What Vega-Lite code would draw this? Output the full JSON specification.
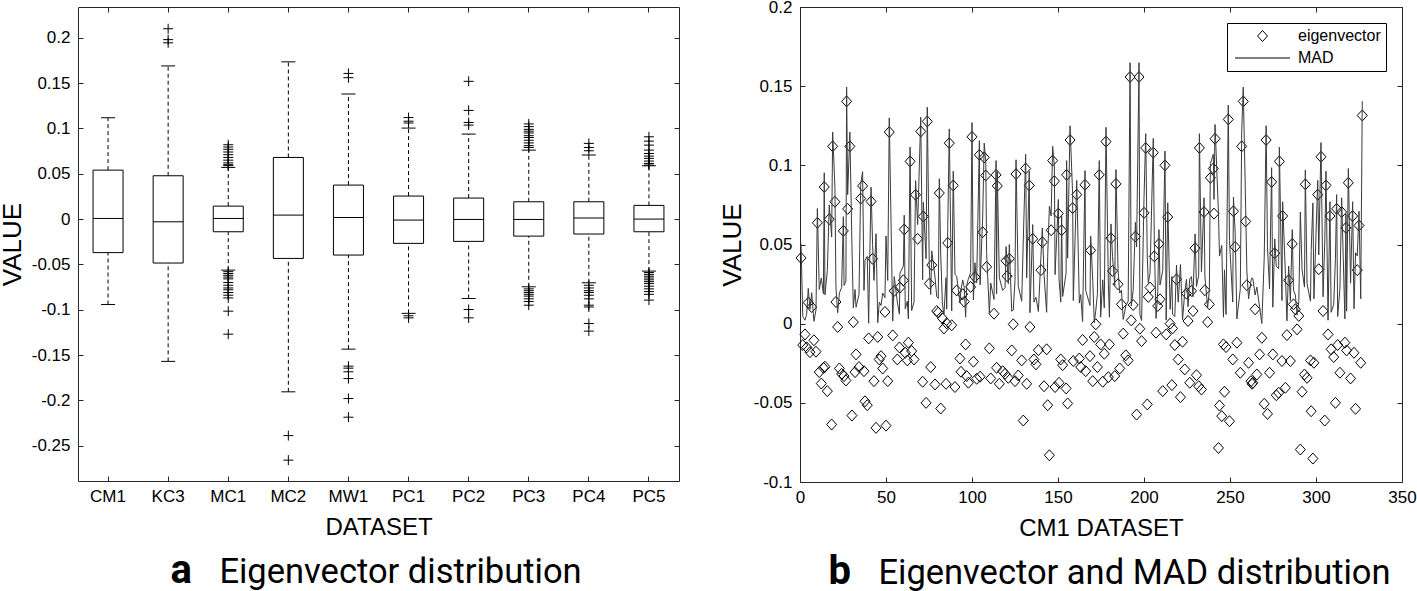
{
  "$schema": "https://vega.github.io/schema/vega-lite/v6.json",
  "background": "white",
  "padding": {"left": -2, "top": -3, "right": 5, "bottom": 0},
  "spacing": 39,
  "resolve": {"legend": {"shape": "independent"}, "scale": {"shape": "independent"}},
  "config": {
    "view": {"stroke": "#262626", "strokeWidth": 1},
    "font": "Liberation Sans",
    "axis": {"domain": false, "grid": false, "tickColor": "#262626", "tickSize": -5, "tickWidth": 1, "labelFont": "Liberation Sans", "labelFontSize": 17, "labelColor": "#000", "titleFont": "Liberation Sans", "titleFontWeight": "normal", "titleColor": "#000", "labelFlush": false, "labelOverlap": false, "labelBound": false}
  },
  "datasets": {
    "box": [
      {"dataset": "CM1", "lw": -0.0943, "q1": -0.037, "med": 0.0007, "q3": 0.054, "uw": 0.1118},
      {"dataset": "KC3", "lw": -0.157, "q1": -0.0485, "med": -0.003, "q3": 0.0478, "uw": 0.169},
      {"dataset": "MC1", "lw": -0.0563, "q1": -0.014, "med": 0.0007, "q3": 0.0143, "uw": 0.057},
      {"dataset": "MC2", "lw": -0.1906, "q1": -0.0434, "med": 0.0044, "q3": 0.068, "uw": 0.1735},
      {"dataset": "MW1", "lw": -0.1435, "q1": -0.0397, "med": 0.0018, "q3": 0.0375, "uw": 0.138},
      {"dataset": "PC1", "lw": -0.104, "q1": -0.0268, "med": -0.0011, "q3": 0.0254, "uw": 0.1004},
      {"dataset": "PC2", "lw": -0.0876, "q1": -0.0246, "med": -0.0004, "q3": 0.0232, "uw": 0.0938},
      {"dataset": "PC3", "lw": -0.0747, "q1": -0.0188, "med": -0.0004, "q3": 0.0191, "uw": 0.0761},
      {"dataset": "PC4", "lw": -0.0703, "q1": -0.0165, "med": 0.0011, "q3": 0.0191, "uw": 0.0706},
      {"dataset": "PC5", "lw": -0.0574, "q1": -0.014, "med": 0.0, "q3": 0.0151, "uw": 0.0588}
    ],
    "out": [
      {"dataset": "KC3", "value": 0.21}, {"dataset": "KC3", "value": 0.198}, {"dataset": "KC3", "value": 0.1945},
      {"dataset": "MC1", "value": 0.082}, {"dataset": "MC1", "value": 0.0795}, {"dataset": "MC1", "value": 0.077}, {"dataset": "MC1", "value": 0.074}, {"dataset": "MC1", "value": 0.071}, {"dataset": "MC1", "value": 0.068}, {"dataset": "MC1", "value": 0.065}, {"dataset": "MC1", "value": 0.062}, {"dataset": "MC1", "value": 0.06}, {"dataset": "MC1", "value": 0.059},
      {"dataset": "MC1", "value": -0.058}, {"dataset": "MC1", "value": -0.06}, {"dataset": "MC1", "value": -0.062}, {"dataset": "MC1", "value": -0.064}, {"dataset": "MC1", "value": -0.066}, {"dataset": "MC1", "value": -0.07}, {"dataset": "MC1", "value": -0.073}, {"dataset": "MC1", "value": -0.076}, {"dataset": "MC1", "value": -0.078}, {"dataset": "MC1", "value": -0.081}, {"dataset": "MC1", "value": -0.084}, {"dataset": "MC1", "value": -0.087}, {"dataset": "MC1", "value": -0.1016}, {"dataset": "MC1", "value": -0.127},
      {"dataset": "MC2", "value": -0.2389}, {"dataset": "MC2", "value": -0.266},
      {"dataset": "MW1", "value": 0.1607}, {"dataset": "MW1", "value": 0.156}, {"dataset": "MW1", "value": -0.1623}, {"dataset": "MW1", "value": -0.1645}, {"dataset": "MW1", "value": -0.1685}, {"dataset": "MW1", "value": -0.176}, {"dataset": "MW1", "value": -0.198}, {"dataset": "MW1", "value": -0.2186},
      {"dataset": "PC1", "value": 0.112}, {"dataset": "PC1", "value": 0.108}, {"dataset": "PC1", "value": 0.106}, {"dataset": "PC1", "value": -0.1067}, {"dataset": "PC1", "value": -0.109},
      {"dataset": "PC2", "value": 0.152}, {"dataset": "PC2", "value": 0.1199}, {"dataset": "PC2", "value": 0.1066}, {"dataset": "PC2", "value": 0.1037}, {"dataset": "PC2", "value": -0.0998}, {"dataset": "PC2", "value": -0.109},
      {"dataset": "PC3", "value": 0.105}, {"dataset": "PC3", "value": 0.102}, {"dataset": "PC3", "value": 0.099}, {"dataset": "PC3", "value": 0.097}, {"dataset": "PC3", "value": 0.095}, {"dataset": "PC3", "value": 0.092}, {"dataset": "PC3", "value": 0.09}, {"dataset": "PC3", "value": 0.087}, {"dataset": "PC3", "value": 0.084}, {"dataset": "PC3", "value": 0.081}, {"dataset": "PC3", "value": 0.079},
      {"dataset": "PC3", "value": -0.077}, {"dataset": "PC3", "value": -0.079}, {"dataset": "PC3", "value": -0.081}, {"dataset": "PC3", "value": -0.083}, {"dataset": "PC3", "value": -0.085}, {"dataset": "PC3", "value": -0.088}, {"dataset": "PC3", "value": -0.091}, {"dataset": "PC3", "value": -0.095},
      {"dataset": "PC4", "value": 0.0835}, {"dataset": "PC4", "value": 0.079}, {"dataset": "PC4", "value": 0.0754}, {"dataset": "PC4", "value": -0.073}, {"dataset": "PC4", "value": -0.076}, {"dataset": "PC4", "value": -0.079}, {"dataset": "PC4", "value": -0.081}, {"dataset": "PC4", "value": -0.084}, {"dataset": "PC4", "value": -0.088}, {"dataset": "PC4", "value": -0.095}, {"dataset": "PC4", "value": -0.097}, {"dataset": "PC4", "value": -0.1152}, {"dataset": "PC4", "value": -0.1236},
      {"dataset": "PC5", "value": 0.0908}, {"dataset": "PC5", "value": 0.086}, {"dataset": "PC5", "value": 0.0816}, {"dataset": "PC5", "value": 0.0761}, {"dataset": "PC5", "value": 0.0724}, {"dataset": "PC5", "value": 0.0695}, {"dataset": "PC5", "value": 0.067}, {"dataset": "PC5", "value": 0.064}, {"dataset": "PC5", "value": 0.0614}, {"dataset": "PC5", "value": 0.0596},
      {"dataset": "PC5", "value": -0.059}, {"dataset": "PC5", "value": -0.061}, {"dataset": "PC5", "value": -0.063}, {"dataset": "PC5", "value": -0.065}, {"dataset": "PC5", "value": -0.067}, {"dataset": "PC5", "value": -0.069}, {"dataset": "PC5", "value": -0.071}, {"dataset": "PC5", "value": -0.074}, {"dataset": "PC5", "value": -0.077}, {"dataset": "PC5", "value": -0.08}, {"dataset": "PC5", "value": -0.083}, {"dataset": "PC5", "value": -0.0894}
    ],
    "leg": [{"series": "eigenvector"}, {"series": "MAD"}],
    "cm1": [
      {"i": 0.6, "ev": 0.0415, "mad": 0.0505}, {"i": 1.6, "ev": -0.0135, "mad": 0.0045}, {"i": 2.9, "ev": -0.0068, "mad": 0.0022}, {"i": 3.9, "ev": -0.015, "mad": 0.006}, {"i": 4.8, "ev": 0.0133, "mad": 0.0223}, {"i": 5.8, "ev": -0.018, "mad": 0.009}, {"i": 6.8, "ev": 0.0105, "mad": 0.0195}, {"i": 8.1, "ev": -0.0105, "mad": 0.0015}, {"i": 9.3, "ev": -0.0177, "mad": 0.0087}, {"i": 10.1, "ev": 0.0637, "mad": 0.0727},
      {"i": 11.2, "ev": -0.0306, "mad": 0.0216}, {"i": 12.4, "ev": -0.0378, "mad": 0.0288}, {"i": 13.6, "ev": -0.0279, "mad": 0.0189}, {"i": 14.1, "ev": 0.0863, "mad": 0.0953}, {"i": 14.5, "ev": -0.0272, "mad": 0.0182}, {"i": 15.9, "ev": -0.0426, "mad": 0.0336}, {"i": 17.0, "ev": 0.066, "mad": 0.075}, {"i": 18.4, "ev": -0.0637, "mad": 0.0547}, {"i": 19.0, "ev": 0.112, "mad": 0.121}, {"i": 20.3, "ev": 0.077, "mad": 0.086},
      {"i": 20.9, "ev": 0.0137, "mad": 0.0227}, {"i": 21.9, "ev": -0.0021, "mad": 0.0069}, {"i": 22.9, "ev": -0.0283, "mad": 0.0193}, {"i": 24.2, "ev": -0.0317, "mad": 0.0227}, {"i": 25.2, "ev": 0.0586, "mad": 0.0676}, {"i": 25.6, "ev": -0.0331, "mad": 0.0241}, {"i": 26.7, "ev": -0.0359, "mad": 0.0269}, {"i": 27.1, "ev": 0.1404, "mad": 0.1494}, {"i": 27.7, "ev": 0.0725, "mad": 0.0815}, {"i": 29.0, "ev": 0.112, "mad": 0.121},
      {"i": 30.2, "ev": -0.058, "mad": 0.049}, {"i": 31.0, "ev": 0.001, "mad": 0.01}, {"i": 32.0, "ev": -0.0306, "mad": 0.0216}, {"i": 32.6, "ev": -0.0194, "mad": 0.0104}, {"i": 34.3, "ev": -0.0274, "mad": 0.0184}, {"i": 35.3, "ev": 0.079, "mad": 0.088}, {"i": 36.4, "ev": 0.087, "mad": 0.096}, {"i": 37.2, "ev": -0.03, "mad": 0.021}, {"i": 37.8, "ev": -0.049, "mad": 0.04}, {"i": 39.1, "ev": -0.0515, "mad": 0.0425},
      {"i": 39.9, "ev": -0.0093, "mad": 0.0003}, {"i": 41.3, "ev": 0.0772, "mad": 0.0862}, {"i": 42.2, "ev": 0.041, "mad": 0.05}, {"i": 43.0, "ev": -0.0363, "mad": 0.0273}, {"i": 44.2, "ev": -0.0658, "mad": 0.0568}, {"i": 45.2, "ev": -0.0084, "mad": 0.0006}, {"i": 46.1, "ev": -0.0226, "mad": 0.0136}, {"i": 47.1, "ev": -0.0205, "mad": 0.0115}, {"i": 48.1, "ev": -0.0283, "mad": 0.0193}, {"i": 49.4, "ev": 0.0074, "mad": 0.0164},
      {"i": 50.0, "ev": -0.0644, "mad": 0.0554}, {"i": 51.0, "ev": -0.0363, "mad": 0.0273}, {"i": 51.9, "ev": 0.121, "mad": 0.13}, {"i": 53.9, "ev": -0.0074, "mad": 0.0016}, {"i": 54.8, "ev": 0.0207, "mad": 0.0297}, {"i": 56.6, "ev": -0.0226, "mad": 0.0136}, {"i": 57.8, "ev": -0.015, "mad": 0.006}, {"i": 58.1, "ev": 0.0228, "mad": 0.0318}, {"i": 60.1, "ev": 0.0274, "mad": 0.0364}, {"i": 60.6, "ev": 0.0595, "mad": 0.0685},
      {"i": 61.2, "ev": -0.0184, "mad": 0.0094}, {"i": 62.4, "ev": -0.0232, "mad": 0.0142}, {"i": 63.0, "ev": -0.012, "mad": 0.003}, {"i": 64.0, "ev": 0.1025, "mad": 0.1115}, {"i": 64.9, "ev": -0.0173, "mad": 0.0083}, {"i": 66.3, "ev": -0.0226, "mad": 0.0136}, {"i": 67.2, "ev": 0.0814, "mad": 0.0904}, {"i": 68.4, "ev": 0.0536, "mad": 0.0626}, {"i": 70.2, "ev": 0.1214, "mad": 0.1304}, {"i": 71.3, "ev": -0.0367, "mad": 0.0277},
      {"i": 71.7, "ev": 0.0677, "mad": 0.0767}, {"i": 73.3, "ev": -0.05, "mad": 0.041}, {"i": 74.0, "ev": 0.1277, "mad": 0.1367}, {"i": 75.2, "ev": 0.0253, "mad": 0.0343}, {"i": 76.0, "ev": -0.0274, "mad": 0.0184}, {"i": 76.6, "ev": 0.037, "mad": 0.046}, {"i": 78.5, "ev": -0.0384, "mad": 0.0294}, {"i": 79.5, "ev": 0.008, "mad": 0.017}, {"i": 80.4, "ev": 0.007, "mad": 0.016}, {"i": 81.0, "ev": 0.0825, "mad": 0.0915},
      {"i": 81.8, "ev": -0.0536, "mad": 0.0446}, {"i": 82.8, "ev": 0.0034, "mad": 0.0124}, {"i": 83.7, "ev": -0.003, "mad": 0.006}, {"i": 84.9, "ev": -0.038, "mad": 0.029}, {"i": 85.3, "ev": 0.0002, "mad": 0.0092}, {"i": 85.9, "ev": 0.051, "mad": 0.06}, {"i": 86.8, "ev": 0.114, "mad": 0.123}, {"i": 88.2, "ev": -0.001, "mad": 0.008}, {"i": 89.1, "ev": 0.0873, "mad": 0.0963}, {"i": 90.1, "ev": -0.04, "mad": 0.031},
      {"i": 91.1, "ev": 0.021, "mad": 0.03}, {"i": 93.0, "ev": -0.022, "mad": 0.013}, {"i": 93.6, "ev": -0.0304, "mad": 0.0214}, {"i": 94.6, "ev": 0.0186, "mad": 0.0276}, {"i": 95.5, "ev": 0.0139, "mad": 0.0229}, {"i": 96.3, "ev": -0.0131, "mad": 0.0041}, {"i": 96.9, "ev": -0.0331, "mad": 0.0241}, {"i": 97.9, "ev": -0.0373, "mad": 0.0283}, {"i": 99.2, "ev": 0.0232, "mad": 0.0322}, {"i": 100.0, "ev": 0.118, "mad": 0.127},
      {"i": 100.8, "ev": -0.024, "mad": 0.015}, {"i": 101.7, "ev": 0.0295, "mad": 0.0385}, {"i": 102.7, "ev": -0.0348, "mad": 0.0258}, {"i": 104.3, "ev": 0.1066, "mad": 0.1156}, {"i": 104.7, "ev": -0.0335, "mad": 0.0245}, {"i": 106.2, "ev": 0.0578, "mad": 0.0668}, {"i": 107.1, "ev": 0.105, "mad": 0.114}, {"i": 108.0, "ev": 0.0936, "mad": 0.1026}, {"i": 108.5, "ev": 0.0359, "mad": 0.0449}, {"i": 110.1, "ev": -0.0156, "mad": 0.0066},
      {"i": 110.9, "ev": -0.0346, "mad": 0.0256}, {"i": 112.8, "ev": 0.0063, "mad": 0.0153}, {"i": 114.0, "ev": 0.094, "mad": 0.103}, {"i": 114.3, "ev": -0.0279, "mad": 0.0189}, {"i": 114.7, "ev": 0.087, "mad": 0.096}, {"i": 115.9, "ev": -0.038, "mad": 0.029}, {"i": 117.8, "ev": -0.03, "mad": 0.021}, {"i": 119.2, "ev": -0.0317, "mad": 0.0227}, {"i": 119.8, "ev": 0.0397, "mad": 0.0487}, {"i": 120.4, "ev": 0.03, "mad": 0.039},
      {"i": 121.1, "ev": -0.0342, "mad": 0.0252}, {"i": 121.7, "ev": 0.041, "mad": 0.05}, {"i": 123.1, "ev": -0.0169, "mad": 0.0079}, {"i": 124.0, "ev": -0.0004, "mad": 0.0086}, {"i": 125.0, "ev": -0.0363, "mad": 0.0273}, {"i": 125.6, "ev": 0.0945, "mad": 0.1035}, {"i": 126.9, "ev": -0.0327, "mad": 0.0237}, {"i": 128.9, "ev": -0.0232, "mad": 0.0142}, {"i": 129.8, "ev": -0.0612, "mad": 0.0522}, {"i": 131.2, "ev": 0.098, "mad": 0.107},
      {"i": 131.8, "ev": -0.038, "mad": 0.029}, {"i": 133.3, "ev": 0.0873, "mad": 0.0963}, {"i": 133.7, "ev": -0.0021, "mad": 0.0069}, {"i": 135.3, "ev": 0.0536, "mad": 0.0626}, {"i": 136.0, "ev": -0.0226, "mad": 0.0136}, {"i": 137.2, "ev": -0.0257, "mad": 0.0167}, {"i": 138.6, "ev": -0.0167, "mad": 0.0077}, {"i": 140.1, "ev": 0.0338, "mad": 0.0428}, {"i": 140.9, "ev": 0.0515, "mad": 0.0605}, {"i": 141.9, "ev": -0.0395, "mad": 0.0305},
      {"i": 143.4, "ev": -0.0162, "mad": 0.0072}, {"i": 144.0, "ev": -0.0515, "mad": 0.0425}, {"i": 145.0, "ev": -0.0831, "mad": 0.0741}, {"i": 146.0, "ev": 0.059, "mad": 0.068}, {"i": 146.9, "ev": 0.103, "mad": 0.112}, {"i": 147.9, "ev": 0.09, "mad": 0.099}, {"i": 148.3, "ev": -0.04, "mad": 0.031}, {"i": 150.2, "ev": 0.0695, "mad": 0.0785}, {"i": 150.6, "ev": -0.0373, "mad": 0.0283}, {"i": 151.6, "ev": -0.0226, "mad": 0.0136},
      {"i": 152.1, "ev": 0.059, "mad": 0.068}, {"i": 152.7, "ev": -0.0262, "mad": 0.0172}, {"i": 154.7, "ev": -0.0409, "mad": 0.0319}, {"i": 155.0, "ev": 0.094, "mad": 0.103}, {"i": 155.6, "ev": -0.0504, "mad": 0.0414}, {"i": 157.0, "ev": 0.116, "mad": 0.125}, {"i": 158.5, "ev": 0.073, "mad": 0.082}, {"i": 158.9, "ev": -0.0236, "mad": 0.0146}, {"i": 160.9, "ev": 0.0815, "mad": 0.0905}, {"i": 162.4, "ev": -0.022, "mad": 0.013},
      {"i": 163.2, "ev": -0.0274, "mad": 0.0184}, {"i": 164.3, "ev": -0.0103, "mad": 0.0013}, {"i": 165.7, "ev": 0.0877, "mad": 0.0967}, {"i": 166.1, "ev": -0.03, "mad": 0.021}, {"i": 168.6, "ev": -0.0205, "mad": 0.0115}, {"i": 169.0, "ev": 0.0463, "mad": 0.0553}, {"i": 170.2, "ev": -0.0363, "mad": 0.0273}, {"i": 171.1, "ev": -0.0084, "mad": 0.0006}, {"i": 172.0, "ev": -0.0004, "mad": 0.0086}, {"i": 172.9, "ev": -0.0274, "mad": 0.0184},
      {"i": 174.0, "ev": 0.094, "mad": 0.103}, {"i": 174.8, "ev": -0.0131, "mad": 0.0041}, {"i": 176.0, "ev": -0.0367, "mad": 0.0277}, {"i": 176.9, "ev": -0.019, "mad": 0.01}, {"i": 177.9, "ev": 0.115, "mad": 0.124}, {"i": 179.3, "ev": -0.0338, "mad": 0.0248}, {"i": 179.9, "ev": -0.0131, "mad": 0.0041}, {"i": 180.8, "ev": 0.054, "mad": 0.063}, {"i": 181.7, "ev": 0.0333, "mad": 0.0423}, {"i": 183.0, "ev": -0.0331, "mad": 0.0241},
      {"i": 183.7, "ev": 0.0883, "mad": 0.0973}, {"i": 184.9, "ev": 0.0249, "mad": 0.0339}, {"i": 185.9, "ev": -0.0283, "mad": 0.0193}, {"i": 186.9, "ev": 0.0122, "mad": 0.0212}, {"i": 187.9, "ev": -0.0063, "mad": 0.0027}, {"i": 189.4, "ev": -0.02, "mad": 0.011}, {"i": 190.8, "ev": -0.0232, "mad": 0.0142}, {"i": 191.9, "ev": 0.1558, "mad": 0.1648}, {"i": 192.6, "ev": 0.0021, "mad": 0.0111}, {"i": 193.7, "ev": 0.0118, "mad": 0.0208},
      {"i": 195.0, "ev": 0.055, "mad": 0.064}, {"i": 195.7, "ev": -0.0574, "mad": 0.0484}, {"i": 197.1, "ev": 0.1558, "mad": 0.1648}, {"i": 197.6, "ev": -0.0032, "mad": 0.0058}, {"i": 198.6, "ev": -0.011, "mad": 0.002}, {"i": 200.0, "ev": 0.07, "mad": 0.079}, {"i": 201.0, "ev": 0.111, "mad": 0.12}, {"i": 201.9, "ev": -0.051, "mad": 0.042}, {"i": 202.5, "ev": 0.0169, "mad": 0.0259}, {"i": 203.5, "ev": 0.0228, "mad": 0.0318},
      {"i": 205.4, "ev": 0.108, "mad": 0.117}, {"i": 206.0, "ev": 0.0425, "mad": 0.0515}, {"i": 207.0, "ev": -0.0057, "mad": 0.0033}, {"i": 208.0, "ev": 0.0112, "mad": 0.0202}, {"i": 208.7, "ev": 0.0504, "mad": 0.0594}, {"i": 209.3, "ev": 0.0154, "mad": 0.0244}, {"i": 210.9, "ev": -0.0426, "mad": 0.0336}, {"i": 212.2, "ev": 0.1, "mad": 0.109}, {"i": 212.9, "ev": -0.0068, "mad": 0.0022}, {"i": 213.8, "ev": 0.0673, "mad": 0.0763},
      {"i": 215.2, "ev": 0.0, "mad": 0.009}, {"i": 216.2, "ev": -0.0388, "mad": 0.0298}, {"i": 216.6, "ev": -0.003, "mad": 0.006}, {"i": 217.9, "ev": -0.0135, "mad": 0.0045}, {"i": 218.9, "ev": 0.028, "mad": 0.037}, {"i": 219.9, "ev": -0.0226, "mad": 0.0136}, {"i": 221.2, "ev": -0.0464, "mad": 0.0374}, {"i": 222.4, "ev": -0.0114, "mad": 0.0024}, {"i": 223.7, "ev": -0.0289, "mad": 0.0199}, {"i": 224.7, "ev": 0.019, "mad": 0.028},
      {"i": 225.6, "ev": 0.0017, "mad": 0.0107}, {"i": 226.6, "ev": -0.0373, "mad": 0.0283}, {"i": 227.6, "ev": 0.0207, "mad": 0.0297}, {"i": 228.5, "ev": 0.008, "mad": 0.017}, {"i": 229.7, "ev": 0.0477, "mad": 0.0567}, {"i": 230.5, "ev": -0.0325, "mad": 0.0235}, {"i": 231.8, "ev": -0.0395, "mad": 0.0305}, {"i": 232.2, "ev": 0.111, "mad": 0.12}, {"i": 233.4, "ev": -0.0416, "mad": 0.0326}, {"i": 234.9, "ev": 0.0705, "mad": 0.0795},
      {"i": 235.4, "ev": 0.0211, "mad": 0.0301}, {"i": 237.0, "ev": 0.001, "mad": 0.01}, {"i": 238.0, "ev": 0.0122, "mad": 0.0212}, {"i": 238.6, "ev": 0.0921, "mad": 0.1011}, {"i": 240.3, "ev": 0.098, "mad": 0.107}, {"i": 240.7, "ev": 0.0695, "mad": 0.0785}, {"i": 241.3, "ev": 0.1168, "mad": 0.1258}, {"i": 243.3, "ev": -0.0785, "mad": 0.0695}, {"i": 243.9, "ev": -0.0517, "mad": 0.0427}, {"i": 245.2, "ev": -0.0584, "mad": 0.0494},
      {"i": 246.2, "ev": -0.0131, "mad": 0.0041}, {"i": 246.8, "ev": -0.043, "mad": 0.034}, {"i": 247.7, "ev": -0.0148, "mad": 0.0058}, {"i": 249.0, "ev": 0.129, "mad": 0.138}, {"i": 249.7, "ev": -0.0616, "mad": 0.0526}, {"i": 251.6, "ev": -0.0226, "mad": 0.0136}, {"i": 252.0, "ev": 0.071, "mad": 0.08}, {"i": 253.0, "ev": 0.0485, "mad": 0.0575}, {"i": 254.0, "ev": -0.012, "mad": 0.003}, {"i": 256.0, "ev": -0.031, "mad": 0.022},
      {"i": 256.8, "ev": 0.112, "mad": 0.121}, {"i": 257.7, "ev": 0.1404, "mad": 0.1494}, {"i": 259.1, "ev": 0.0646, "mad": 0.0736}, {"i": 259.8, "ev": 0.0243, "mad": 0.0333}, {"i": 260.8, "ev": -0.0247, "mad": 0.0157}, {"i": 262.2, "ev": -0.0363, "mad": 0.0273}, {"i": 262.8, "ev": -0.038, "mad": 0.029}, {"i": 263.3, "ev": -0.0373, "mad": 0.0283}, {"i": 264.6, "ev": 0.0091, "mad": 0.0181}, {"i": 265.6, "ev": -0.0321, "mad": 0.0231},
      {"i": 267.2, "ev": -0.0194, "mad": 0.0104}, {"i": 268.5, "ev": -0.0089, "mad": 0.0001}, {"i": 269.9, "ev": -0.0506, "mad": 0.0416}, {"i": 271.0, "ev": 0.116, "mad": 0.125}, {"i": 271.8, "ev": -0.057, "mad": 0.048}, {"i": 273.0, "ev": -0.031, "mad": 0.022}, {"i": 274.2, "ev": 0.0895, "mad": 0.0985}, {"i": 274.9, "ev": -0.0194, "mad": 0.0104}, {"i": 276.0, "ev": 0.0445, "mad": 0.0535}, {"i": 276.9, "ev": -0.0452, "mad": 0.0362},
      {"i": 278.3, "ev": -0.0437, "mad": 0.0347}, {"i": 278.7, "ev": 0.1025, "mad": 0.1115}, {"i": 280.2, "ev": -0.0236, "mad": 0.0146}, {"i": 280.6, "ev": 0.068, "mad": 0.077}, {"i": 282.2, "ev": -0.0405, "mad": 0.0315}, {"i": 283.1, "ev": -0.0072, "mad": 0.0018}, {"i": 284.1, "ev": 0.0274, "mad": 0.0364}, {"i": 285.1, "ev": -0.0236, "mad": 0.0146}, {"i": 286.2, "ev": 0.0504, "mad": 0.0594}, {"i": 286.9, "ev": 0.0122, "mad": 0.0212},
      {"i": 288.0, "ev": 0.0091, "mad": 0.0181}, {"i": 289.0, "ev": -0.0036, "mad": 0.0054}, {"i": 290.0, "ev": 0.0049, "mad": 0.0139}, {"i": 290.9, "ev": -0.0795, "mad": 0.0705}, {"i": 291.9, "ev": -0.043, "mad": 0.034}, {"i": 293.3, "ev": -0.0321, "mad": 0.0231}, {"i": 293.8, "ev": 0.088, "mad": 0.097}, {"i": 294.8, "ev": -0.0342, "mad": 0.0252}, {"i": 296.8, "ev": -0.0232, "mad": 0.0142}, {"i": 297.2, "ev": -0.0553, "mad": 0.0463},
      {"i": 298.2, "ev": -0.0852, "mad": 0.0762}, {"i": 298.8, "ev": -0.0247, "mad": 0.0157}, {"i": 301.0, "ev": 0.0815, "mad": 0.0905}, {"i": 301.6, "ev": 0.0344, "mad": 0.0434}, {"i": 302.9, "ev": 0.1054, "mad": 0.1144}, {"i": 304.1, "ev": 0.008, "mad": 0.017}, {"i": 305.1, "ev": -0.0612, "mad": 0.0522}, {"i": 305.8, "ev": 0.0873, "mad": 0.0963}, {"i": 307.0, "ev": -0.0068, "mad": 0.0022}, {"i": 308.1, "ev": 0.068, "mad": 0.077},
      {"i": 308.8, "ev": -0.0162, "mad": 0.0072}, {"i": 310.3, "ev": -0.0211, "mad": 0.0121}, {"i": 311.3, "ev": -0.05, "mad": 0.041}, {"i": 312.0, "ev": 0.0725, "mad": 0.0815}, {"i": 312.6, "ev": -0.0135, "mad": 0.0045}, {"i": 313.9, "ev": -0.031, "mad": 0.022}, {"i": 314.9, "ev": 0.0705, "mad": 0.0795}, {"i": 316.8, "ev": -0.012, "mad": 0.003}, {"i": 317.4, "ev": 0.0605, "mad": 0.0695}, {"i": 317.8, "ev": -0.0169, "mad": 0.0079},
      {"i": 318.8, "ev": 0.089, "mad": 0.098}, {"i": 320.1, "ev": -0.0346, "mad": 0.0256}, {"i": 321.3, "ev": 0.068, "mad": 0.077}, {"i": 322.1, "ev": -0.0184, "mad": 0.0094}, {"i": 323.0, "ev": -0.0538, "mad": 0.0448}, {"i": 324.0, "ev": 0.0338, "mad": 0.0428}, {"i": 325.0, "ev": 0.062, "mad": 0.071}, {"i": 326.0, "ev": -0.0247, "mad": 0.0157}, {"i": 326.9, "ev": 0.1315, "mad": 0.1405}
    ]
  },
  "hconcat": [
    {
      "width": 601,
      "height": 474,
      "resolve": {"axis": {"x": "independent", "y": "independent"}},
      "layer": [
        {
          "layer": [
            {
              "data": {"name": "box"},
              "mark": {"type": "rule", "strokeDash": [4, 3], "color": "#000", "strokeWidth": 1},
              "encoding": {
                "x": {"field": "dataset", "type": "nominal", "scale": {"type": "band", "paddingInner": 0, "paddingOuter": 0}, "axis": {"orient": "bottom", "title": "DATASET", "titleFontSize": 24, "titlePadding": 10, "labelPadding": 12, "labelAngle": 0, "bandPosition": 0.5, "minExtent": 24, "maxExtent": 24}},
                "y": {"field": "lw", "type": "quantitative", "scale": {"domain": [-0.289, 0.234], "nice": false, "zero": false}, "axis": {"title": "VALUE", "titleFontSize": 26, "values": [-0.25, -0.2, -0.15, -0.1, -0.05, 0, 0.05, 0.1, 0.15, 0.2], "labelExpr": "'' + datum.value", "labelPadding": 13, "minExtent": 45, "maxExtent": 45, "titlePadding": 8}},
                "y2": {"field": "q1"}
              }
            },
            {
              "data": {"name": "box"},
              "mark": {"type": "rule", "strokeDash": [4, 3], "color": "#000", "strokeWidth": 1},
              "encoding": {
                "x": {"field": "dataset", "type": "nominal"},
                "y": {"field": "q3", "type": "quantitative"},
                "y2": {"field": "uw"}
              }
            },
            {
              "data": {"name": "box"},
              "mark": {"type": "bar", "size": 30, "fill": "white", "stroke": "#000", "strokeWidth": 1},
              "encoding": {
                "x": {"field": "dataset", "type": "nominal"},
                "y": {"field": "q1", "type": "quantitative"},
                "y2": {"field": "q3"}
              }
            },
            {
              "data": {"name": "box"},
              "mark": {"type": "tick", "size": 30, "thickness": 1, "color": "#000", "opacity": 1},
              "encoding": {
                "x": {"field": "dataset", "type": "nominal"},
                "y": {"field": "med", "type": "quantitative"}
              }
            },
            {
              "data": {"name": "box"},
              "mark": {"type": "tick", "size": 14, "thickness": 1, "color": "#000", "opacity": 1},
              "encoding": {
                "x": {"field": "dataset", "type": "nominal"},
                "y": {"field": "lw", "type": "quantitative"}
              }
            },
            {
              "data": {"name": "box"},
              "mark": {"type": "tick", "size": 14, "thickness": 1, "color": "#000", "opacity": 1},
              "encoding": {
                "x": {"field": "dataset", "type": "nominal"},
                "y": {"field": "uw", "type": "quantitative"}
              }
            },
            {
              "data": {"name": "out"},
              "mark": {"type": "point", "shape": "M-1,0L1,0M0,-1L0,1", "size": 100, "filled": false, "stroke": "#000", "strokeWidth": 1, "opacity": 1},
              "encoding": {
                "x": {"field": "dataset", "type": "nominal"},
                "y": {"field": "value", "type": "quantitative"}
              }
            }
          ]
        },
        {
          "data": {"name": "box"},
          "mark": {"type": "point", "opacity": 0},
          "encoding": {
            "x": {"field": "dataset", "type": "nominal", "axis": {"orient": "top", "labels": false, "title": null, "bandPosition": 0.5, "minExtent": 0, "maxExtent": 0}},
            "y": {"field": "med", "type": "quantitative", "axis": {"orient": "right", "labels": false, "title": null, "values": [-0.25, -0.2, -0.15, -0.1, -0.05, 0, 0.05, 0.1, 0.15, 0.2], "minExtent": 0, "maxExtent": 0}}
          }
        },
        {
          "data": {"name": "box"},
          "mark": {"type": "point", "opacity": 0},
          "encoding": {
            "x": {"field": "dataset", "type": "nominal", "axis": {"orient": "bottom", "labels": false, "ticks": false, "title": "Eigenvector distribution", "titleFont": "Roboto", "titleFontSize": 34.5, "titleFontWeight": "normal", "titleBaseline": "alphabetic", "titleAlign": "center", "titleX": 322, "titleY": 101, "minExtent": 0, "maxExtent": 0}},
            "y": {"field": "med", "type": "quantitative", "axis": null}
          }
        },
        {
          "data": {"name": "box"},
          "mark": {"type": "point", "opacity": 0},
          "encoding": {
            "x": {"field": "dataset", "type": "nominal", "axis": {"orient": "bottom", "labels": false, "ticks": false, "title": "a", "titleFont": "Roboto", "titleFontSize": 40, "titleFontWeight": "bold", "titleBaseline": "alphabetic", "titleAlign": "left", "titleX": 92, "titleY": 101, "minExtent": 0, "maxExtent": 0}},
            "y": {"field": "med", "type": "quantitative", "axis": null}
          }
        }
      ]
    },
    {
      "width": 602,
      "height": 475,
      "resolve": {"axis": {"x": "independent", "y": "independent"}},
      "layer": [
        {
          "data": {"name": "cm1"},
          "layer": [
            {
              "mark": {"type": "point", "shape": "M0,-1.1L1,0L0,1.1L-1,0Z", "size": 100, "filled": false, "stroke": "#000", "strokeWidth": 1, "opacity": 1},
              "encoding": {
                "x": {"field": "i", "type": "quantitative", "scale": {"domain": [0, 350], "nice": false, "zero": false}, "axis": {"orient": "bottom", "title": "CM1 DATASET", "titleFontSize": 24, "titlePadding": 10, "values": [0, 50, 100, 150, 200, 250, 300, 350], "labelPadding": 12, "minExtent": 24, "maxExtent": 24}},
                "y": {"field": "ev", "type": "quantitative", "scale": {"domain": [-0.1, 0.2], "nice": false, "zero": false}, "axis": {"title": "VALUE", "titleFontSize": 26, "values": [-0.1, -0.05, 0, 0.05, 0.1, 0.15, 0.2], "labelExpr": "'' + datum.value", "labelPadding": 13, "minExtent": 45, "maxExtent": 45, "titlePadding": 9.5}}
              }
            },
            {
              "mark": {"type": "line", "color": "#3a3a3a", "strokeWidth": 1},
              "encoding": {
                "x": {"field": "i", "type": "quantitative"},
                "y": {"field": "mad", "type": "quantitative"}
              }
            }
          ]
        },
        {
          "data": {"name": "cm1"},
          "mark": {"type": "point", "opacity": 0},
          "encoding": {
            "x": {"field": "i", "type": "quantitative", "axis": {"orient": "top", "labels": false, "title": null, "values": [0, 50, 100, 150, 200, 250, 300, 350], "minExtent": 0, "maxExtent": 0}},
            "y": {"field": "ev", "type": "quantitative", "axis": {"orient": "right", "labels": false, "title": null, "values": [-0.1, -0.05, 0, 0.05, 0.1, 0.15, 0.2], "minExtent": 0, "maxExtent": 0}}
          }
        },
        {
          "data": {"name": "cm1"},
          "mark": {"type": "point", "opacity": 0},
          "encoding": {
            "x": {"field": "i", "type": "quantitative", "axis": {"orient": "bottom", "labels": false, "ticks": false, "title": "Eigenvector and MAD distribution", "titleFont": "Roboto", "titleFontSize": 34.5, "titleFontWeight": "normal", "titleBaseline": "alphabetic", "titleAlign": "center", "titleX": 334, "titleY": 101, "minExtent": 0, "maxExtent": 0}},
            "y": {"field": "ev", "type": "quantitative", "axis": null}
          }
        },
        {
          "data": {"name": "cm1"},
          "mark": {"type": "point", "opacity": 0},
          "encoding": {
            "x": {"field": "i", "type": "quantitative", "axis": {"orient": "bottom", "labels": false, "ticks": false, "title": "b", "titleFont": "Roboto", "titleFontSize": 40, "titleFontWeight": "bold", "titleBaseline": "alphabetic", "titleAlign": "left", "titleX": 28, "titleY": 101, "minExtent": 0, "maxExtent": 0}},
            "y": {"field": "ev", "type": "quantitative", "axis": null}
          }
        },
        {
          "data": {"name": "leg"},
          "mark": {"type": "point", "opacity": 0, "filled": false, "stroke": "#000"},
          "encoding": {
            "shape": {"field": "series", "type": "nominal", "scale": {"domain": ["eigenvector", "MAD"], "range": ["M3.5,0L4.5,-1.1L5.5,0L4.5,1.1Z", "M-1,0L10,0"]}, "legend": {"title": null, "orient": "top-right", "offset": 16, "symbolSize": 100, "symbolStrokeColor": "#000", "symbolFillColor": "transparent", "symbolOpacity": 1, "symbolStrokeWidth": 1, "labelFont": "Liberation Sans", "labelFontSize": 16, "labelColor": "#000", "labelOffset": 50, "strokeColor": "#000", "fillColor": "white", "padding": 5, "rowPadding": 6}}
          }
        }
      ]
    }
  ]
}
